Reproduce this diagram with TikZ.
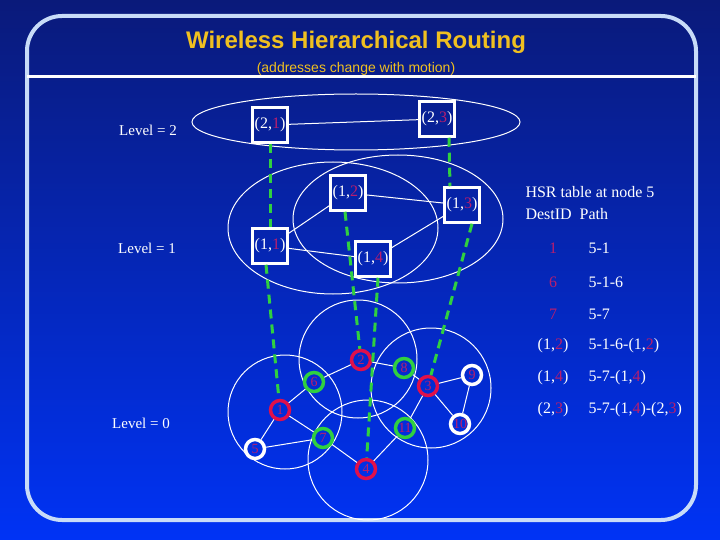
\documentclass[tikz,border=0pt]{standalone}
\usepackage{fontspec}
\setmainfont{Liberation Serif}
\newfontfamily\titlefont{Liberation Sans}
\definecolor{bgtop}{HTML}{0A1A7A}
\definecolor{bgbot}{HTML}{0033F5}
\definecolor{framec}{HTML}{C8DCF8}
\definecolor{ttl}{HTML}{F0C020}
\definecolor{lab}{HTML}{B81E6E}
\definecolor{redr}{HTML}{E0104A}
\definecolor{grnr}{HTML}{30D040}
\begin{document}
\begin{tikzpicture}[x=1pt,y=-1pt,
  nd/.style={circle,draw=#1,line width=3.5pt,minimum size=19pt,inner sep=0pt,font=\fontsize{14}{14}\selectfont,text=lab},
  bx/.style={draw=white,line width=2.5pt,minimum size=35pt,inner sep=0pt,font=\fontsize{16}{16}\selectfont,text=white},
  wl/.style={white,line width=1pt},
  gd/.style={grnr,line width=3pt,dash pattern=on 9pt off 6pt},
  lv/.style={text=white,font=\fontsize{15}{15}\selectfont},
  tb/.style={text=white,font=\fontsize{16}{16}\selectfont,anchor=west}]
\useasboundingbox (0,0) rectangle (720,540);
\shade[top color=bgtop,bottom color=bgbot] (0,0) rectangle (720,540);
\draw[framec,line width=4pt,rounded corners=35pt] (27,16) rectangle (696,520);
\draw[white,line width=3pt] (27,77) -- (696,77);
\node[text=ttl,font=\titlefont\bfseries\fontsize{24}{24}\selectfont] (title) at (356,42) {Wireless Hierarchical Routing};
\node[text=ttl,font=\titlefont\fontsize{14}{14}\selectfont] (sub) at (356,69) {(addresses change with motion)};
% level labels
\node[lv] (L2) at (148,130) {Level = 2};
\node[lv] (L1) at (147,248) {Level = 1};
\node[lv] (L0) at (141,423) {Level = 0};
% ellipses and circles
\draw[wl] (356,122) ellipse [x radius=164,y radius=28];
\draw[wl] (333,228) ellipse [x radius=105,y radius=66];
\draw[wl] (398,219) ellipse [x radius=105,y radius=64];
\draw[wl] (285,412) circle (57);
\draw[wl] (358,359) circle (59);
\draw[wl] (431,388) circle (60);
\draw[wl] (368,460) circle (60);
% boxes
\node[bx] (b21) at (270,125) {(2,\textcolor{lab}{1})};
\node[bx] (b23) at (437,119) {(2,\textcolor{lab}{3})};
\node[bx] (b12) at (348,193) {(1,\textcolor{lab}{2})};
\node[bx] (b13) at (462,205) {(1,\textcolor{lab}{3})};
\node[bx] (b11) at (270,246) {(1,\textcolor{lab}{1})};
\node[bx] (b14) at (373,259) {(1,\textcolor{lab}{4})};
% nodes
\node[nd=redr] (n1) at (280,410) {1};
\node[nd=redr] (n2) at (361,360) {2};
\node[nd=redr] (n3) at (428,386) {3};
\node[nd=redr] (n4) at (366,469) {4};
\node[nd=white] (n5) at (255,449) {5};
\node[nd=grnr] (n6) at (314,382) {6};
\node[nd=grnr] (n7) at (323,438) {7};
\node[nd=grnr] (n8) at (404,368) {8};
\node[nd=white] (n9) at (472,375) {9};
\node[nd=white] (n10) at (460,424) {10};
\node[nd=grnr] (n11) at (405,428) {11};
% edges
\draw[wl] (b21) -- (b23);
\draw[wl] (b11) -- (b12);
\draw[wl] (b12) -- (b13);
\draw[wl] (b13) -- (b14);
\draw[wl] (b11) -- (b14);
\foreach \a/\b in {n1/n6,n6/n2,n2/n8,n8/n3,n3/n9,n9/n10,n10/n3,n3/n11,n11/n4,n4/n7,n7/n1,n1/n5,n5/n7}
  \draw[wl] (\a) -- (\b);
% dashed hierarchy links
\draw[gd] (b21) -- (b11);
\draw[gd] ([xshift=12pt]b23.south) -- ([xshift=-12pt]b13.north);
\draw[gd] ([xshift=-4pt]b11.south) -- (n1);
\draw[gd] ([xshift=-3pt]b12.south) -- (n2);
\draw[gd] ([xshift=5pt]b14.south) -- (n4);
\draw[gd] ([xshift=10pt]b13.south) -- (n3);
% table
\node[tb] (t0) at (522,192) {HSR table at node 5};
\node[tb] (t1) at (522,214) {DestID\hspace{8pt}Path};
\node[text=lab,font=\fontsize{16}{16}\selectfont] (d1) at (553,248) {1};
\node[text=lab,font=\fontsize{16}{16}\selectfont] (d2) at (553,282) {6};
\node[text=lab,font=\fontsize{16}{16}\selectfont] (d3) at (553,314) {7};
\node[text=white,font=\fontsize{16}{16}\selectfont] (d4) at (553,346) {(1,\textcolor{lab}{2})};
\node[text=white,font=\fontsize{16}{16}\selectfont] (d5) at (553,378) {(1,\textcolor{lab}{4})};
\node[text=white,font=\fontsize{16}{16}\selectfont] (d6) at (553,410) {(2,\textcolor{lab}{3})};
\node[tb] (p1) at (585,248) {5-1};
\node[tb] (p2) at (585,282) {5-1-6};
\node[tb] (p3) at (585,314) {5-7};
\node[tb] (p4) at (585,346) {5-1-6-(1,\textcolor{lab}{2})};
\node[tb] (p5) at (585,378) {5-7-(1,\textcolor{lab}{4})};
\node[tb] (p6) at (585,410) {5-7-(1,\textcolor{lab}{4})-(2,\textcolor{lab}{3})};
\end{tikzpicture}
\end{document}
